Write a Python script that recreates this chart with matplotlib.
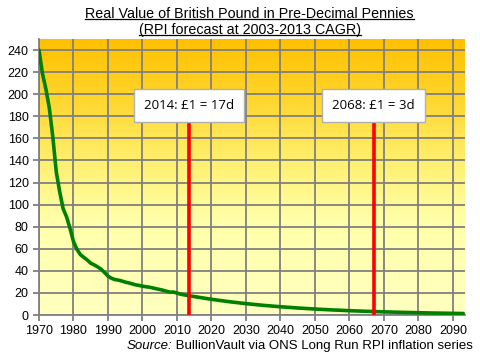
import numpy as np
import matplotlib
matplotlib.use("Agg")
import matplotlib.pyplot as plt
from matplotlib.colors import LinearSegmentedColormap
from matplotlib.lines import Line2D

plt.rcParams['font.family'] = ['Liberation Sans', 'DejaVu Sans']

# Historical real value (pre-decimal pennies per £1), yearly
hist_years = list(range(1970, 2014))
hist_values = [240, 218.7, 204.6, 187.3, 161.5, 129.8, 111.6, 96.3, 88.8, 78.3,
               66.5, 59.4, 54.7, 52.2, 49.8, 46.9, 45.4, 43.6, 41.5, 38.5,
               35.2, 33.3, 32.1, 31.6, 30.8, 29.8, 29.1, 28.2, 27.3, 26.8,
               26.1, 25.6, 25.2, 24.5, 23.8, 23.1, 22.4, 21.5, 20.7, 20.8,
               19.9, 18.9, 18.3, 17.8]
# Forecast values
fc_years = [2014, 2015, 2020, 2025, 2030, 2035, 2040, 2045, 2050, 2055, 2060,
            2065, 2070, 2075, 2080, 2085, 2090, 2093]
fc_values = [17.24, 16.69, 14.21, 12.10, 10.30, 8.77, 7.47, 6.36, 5.41, 4.61,
             3.92, 3.34, 2.84, 2.42, 2.06, 1.75, 1.49, 1.36]

marker_years = [2013.5, 2067]
marker_labels = ["2014: £1 = 17d", "2068: £1 = 3d"]

x_ticks = list(range(1970, 2100, 10))
y_ticks = list(range(0, 260, 20))

title_lines = ["Real Value of British Pound in Pre-Decimal Pennies",
               "(RPI forecast at 2003-2013 CAGR)"]

fig = plt.figure(figsize=(4.8, 3.58), dpi=100)
ax = fig.add_axes([0.08125, 0.1201, 0.8875, 0.7709])

xmin, xmax, ymin, ymax = 1970, 2093.5, 0, 250
cmap = LinearSegmentedColormap.from_list(
    "bg", [(0.0, "#FFFFC0"), (0.35, "#FFFFA8"), (0.55, "#FFF070"),
           (0.8, "#FFD42A"), (1.0, "#FFC000")])
grad = np.linspace(0, 1, 256).reshape(-1, 1)
ax.imshow(grad, cmap=cmap, extent=[xmin, xmax, ymin, ymax], origin="lower",
          aspect="auto", zorder=0)

ax.set_xlim(xmin, xmax)
ax.set_ylim(ymin, ymax)
ax.set_xticks(x_ticks)
ax.set_yticks(y_ticks)
ax.grid(True, color="#808080", linewidth=1.3, zorder=1)
ax.set_axisbelow(False)
for s in ax.spines.values():
    s.set_visible(False)
ax.spines['left'].set_visible(True)
ax.spines['bottom'].set_visible(True)
ax.spines['left'].set_color("#808080")
ax.spines['bottom'].set_color("#808080")
ax.spines['left'].set_linewidth(1.3)
ax.spines['bottom'].set_linewidth(1.3)
ax.tick_params(axis='both', colors="#808080", length=4, width=1.3,
               labelcolor="black", labelsize=9)

years = hist_years + fc_years
values = hist_values + fc_values
ax.plot(years, values, color="#008000", linewidth=2.6, zorder=3,
        solid_capstyle='round')

for yr, lab in zip(marker_years, marker_labels):
    ax.plot([yr, yr], [0, 180], color="#FF0000", linewidth=2.6, zorder=4)
    ax.text(yr, 190, lab, ha="center", va="center", fontsize=9.5,
            family=['Open Sans', 'DejaVu Sans'], zorder=5,
            bbox=dict(boxstyle="square,pad=0.75", facecolor="white",
                      edgecolor="#B0B0B0", linewidth=1))

t1 = fig.text(0.52, 0.962, title_lines[0], ha="center", va="center", fontsize=10.3)
t2 = fig.text(0.52, 0.917, title_lines[1], ha="center", va="center", fontsize=10.3)

s1 = fig.text(0.985, 0.025, "Source:", style="italic", ha="right", fontsize=9.5)
fig.canvas.draw()
r = fig.canvas.get_renderer()
src = " BullionVault via ONS Long Run RPI inflation series"
s2 = fig.text(0.985, 0.025, src, ha="right", fontsize=9.5)
fig.canvas.draw()
bb2 = s2.get_window_extent(r)
s1.set_position((bb2.x0 / fig.bbox.width, 0.025))

for t in (t1, t2):
    bb = t.get_window_extent(r)
    y = (bb.y0 + 1.5) / fig.bbox.height
    fig.add_artist(Line2D([bb.x0 / fig.bbox.width, bb.x1 / fig.bbox.width], [y, y],
                          color="black", linewidth=0.9))

fig.savefig("out.png", dpi=100)
